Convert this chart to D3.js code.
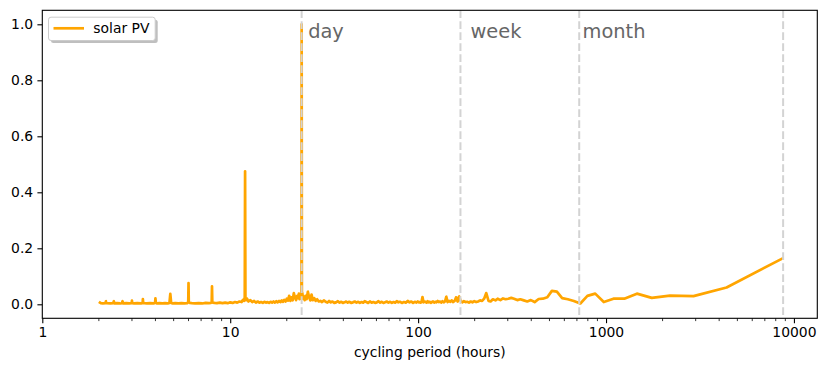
<!DOCTYPE html>
<html>
<head>
<meta charset="utf-8">
<script src="https://cdn.jsdelivr.net/npm/d3@7/dist/d3.min.js"></script>
<style>
  html, body { margin: 0; padding: 0; background: #fff; }
  svg { display: block; font-family: "DejaVu Sans", sans-serif; }
</style>
</head>
<body>
<svg id="chart" width="826" height="371"></svg>
<script>
// ---------- data ----------
const seriesName = "solar PV";
// [cycling period (hours), normalised power]
const solarPV = [
  [8760,0.165],[4380,0.060],[2920,0.029],[2190,0.031],[1752,0.023],[1460,0.038],[1251,0.020],[1095,0.020],
  [973,0.008],[876,0.038],[796,0.030],[730,0.003],[674,0.012],[626,0.018],[584,0.022],[547.5,0.045],
  [515,0.048],[487,0.025],[461,0.020],[438,0.019],[417,0.008],[398,0.015],[381,0.010],[365,0.014],
  [350,0.018],[337,0.015],[324,0.020],[313,0.023],[302,0.020],[292,0.018],[283,0.021],[274,0.015],
  [265,0.020],[258,0.014],[250,0.018],[243,0.010],[237,0.012],[230.5,0.040],[224.6,0.020],[219,0.012],
  [213.7,0.014],[208.6,0.010],[203.7,0.008],[199,0.011],[194.7,0.007],[190.4,0.010],[186.4,0.006],
  [182.5,0.009],[178.8,0.008],[175.2,0.011],[171.8,0.007],[168.5,0.012],[165.3,0.028],[162.2,0.010],
  [159.3,0.025],[156.4,0.012],[153.7,0.008],[151,0.014],[148.5,0.009],[146,0.012],[143.6,0.008],
  [141.3,0.027],[139,0.010],[136.9,0.007],[134.8,0.011],[132.7,0.006],[130.7,0.010],[128.8,0.008],
  [127,0.012],[125.1,0.007],[123.4,0.009],[121.7,0.006],[120,0.010],[118.4,0.008],[116.8,0.005],
  [115.3,0.009],[113.8,0.007],[112.3,0.011],[110.9,0.006],[109.5,0.008],[108.1,0.010],[106.8,0.007],
  [105.5,0.026],[104.3,0.009],[103.1,0.006],[101.9,0.008],[100.7,0.007],[99.5,0.010],
  [98,0.006],[96,0.009],[94,0.005],[92,0.010],[90,0.007],[88,0.012],[86,0.006],[84,0.008],[82,0.005],
  [80,0.009],[78.5,0.007],[77,0.011],[75.5,0.006],[74,0.008],[72.5,0.005],[71,0.009],[69.5,0.006],
  [68,0.010],[66.7,0.007],[65.4,0.005],[64,0.009],[62.8,0.006],[61.5,0.011],[60.3,0.007],[59,0.005],
  [57.8,0.008],[56.6,0.006],[55.4,0.010],[54.2,0.005],[53,0.008],[52,0.011],[51,0.006],[50,0.008],
  [49,0.005],[48,0.009],[47,0.006],[46,0.010],[45,0.007],[44,0.005],[43,0.009],[42.2,0.006],
  [41.4,0.010],[40.6,0.007],[39.8,0.005],[39,0.009],[38.2,0.006],[37.4,0.011],[36.6,0.007],
  [35.8,0.005],[35,0.010],[34.3,0.007],[33.6,0.012],[32.9,0.006],[32.2,0.009],[31.5,0.014],
  [30.8,0.008],[30.2,0.012],
  [29.6,0.010],[29,0.018],[28.5,0.012],[28,0.022],[27.5,0.015],[27.1,0.035],[26.7,0.014],[26.3,0.025],
  [25.9,0.045],[25.5,0.018],[25.2,0.030],[24.9,0.015],[24.6,0.028],[24.4,0.020],[24.2,0.040],
  [24.07,0.030],[24.0,1.0],[23.93,0.030],[23.8,0.020],[23.6,0.035],[23.4,0.018],[23.2,0.038],
  [23,0.022],[22.7,0.030],[22.4,0.015],[22.1,0.025],[21.8,0.040],[21.5,0.014],[21.2,0.025],
  [20.9,0.012],[20.6,0.030],[20.3,0.013],[20,0.020],[19.7,0.010],[19.4,0.016],[19.1,0.009],
  [18.8,0.014],[18.5,0.008],[18.2,0.012],[17.9,0.007],[17.6,0.011],[17.3,0.006],[17,0.010],
  [16.7,0.006],[16.4,0.009],[16.1,0.005],[15.8,0.008],[15.5,0.006],[15.2,0.009],[14.9,0.005],
  [14.6,0.008],[14.3,0.006],[14,0.010],[13.7,0.006],[13.4,0.012],[13.1,0.008],[12.8,0.015],
  [12.5,0.010],[12.3,0.020],[12.15,0.015],[12.05,0.025],[12.0,0.475],[11.95,0.025],[11.85,0.012],
  [11.7,0.016],[11.5,0.008],[11.2,0.010],[10.9,0.006],[10.6,0.008],[10.3,0.005],[10,0.007],
  [9.7,0.004],[9.4,0.006],[9.1,0.004],[8.8,0.006],[8.5,0.004],[8.25,0.005],[8.1,0.006],[8.03,0.008],
  [8.0,0.064],[7.97,0.008],[7.9,0.005],[7.7,0.004],[7.4,0.005],[7.1,0.003],[6.8,0.004],[6.5,0.003],
  [6.25,0.004],[6.1,0.005],[6.02,0.008],[6.0,0.076],[5.98,0.008],[5.9,0.004],[5.7,0.003],[5.5,0.004],
  [5.3,0.003],[5.1,0.004],[4.95,0.003],[4.85,0.005],[4.8,0.037],[4.75,0.005],[4.65,0.003],[4.5,0.004],
  [4.35,0.003],[4.2,0.004],[4.08,0.003],[4.02,0.005],[4.0,0.021],[3.98,0.005],[3.9,0.003],[3.75,0.004],
  [3.6,0.003],[3.5,0.004],[3.44,0.005],[3.43,0.019],[3.42,0.005],[3.35,0.003],[3.2,0.004],[3.08,0.003],
  [3.01,0.004],[3.0,0.013],[2.99,0.004],[2.9,0.003],[2.8,0.004],[2.7,0.003],[2.67,0.011],[2.66,0.004],
  [2.6,0.003],[2.5,0.004],[2.42,0.003],[2.4,0.011],[2.39,0.004],[2.3,0.003],[2.2,0.004],[2.185,0.004],
  [2.18,0.011],[2.17,0.004],[2.1,0.003],[2.05,0.004],[2.0,0.009]
];
const markerPeriods = [24, 168, 720, 8760];
const markerLabels = ["day", "week", "month"];
const markerLabelPeriods = [26, 190, 750];
const markerLabelValue = 0.95;
const xTickValues = [1, 10, 100, 1000, 10000];
const yTickValues = [0.0, 0.2, 0.4, 0.6, 0.8, 1.0];
const xDomain = [1, 13315];
const yDomain = [-0.05, 1.05];
const xLabel = "cycling period (hours)";

// ---------- layout ----------
const svg = d3.select("#chart");
const L = 42.3, R = 817.3, T = 10.3, B = 318.3;

const x = d3.scaleLog().domain(xDomain).range([L, R]);
const y = d3.scaleLinear().domain(yDomain).range([B, T]);

svg.append("defs").append("clipPath").attr("id", "plotclip")
  .append("rect").attr("x", L).attr("y", T).attr("width", R - L).attr("height", B - T);

// data line
const line = d3.line().x(d => x(d[0])).y(d => y(d[1]));
svg.append("g").attr("clip-path", "url(#plotclip)")
  .append("path")
  .datum(solarPV)
  .attr("d", line)
  .attr("fill", "none")
  .attr("stroke", "#FFA500")
  .attr("stroke-width", 2.7)
  .attr("stroke-linejoin", "round");

// vertical marker lines
svg.append("g").selectAll("line").data(markerPeriods).join("line")
  .attr("x1", d => x(d)).attr("x2", d => x(d))
  .attr("y1", T).attr("y2", B)
  .attr("stroke", "#d3d3d3")
  .attr("stroke-width", 2)
  .attr("stroke-dasharray", "7.7,3.3");

// marker labels
svg.append("g").selectAll("text").data(markerLabels).join("text")
  .attr("x", (d, i) => x(markerLabelPeriods[i]))
  .attr("y", y(markerLabelValue))
  .attr("font-size", 19.4)
  .attr("fill", "#666666")
  .text(d => d);

// axes
const xAxis = d3.axisBottom(x).tickValues(xTickValues).tickFormat(d3.format("d"))
  .tickSize(4.9).tickPadding(4.2);
const gx = svg.append("g").attr("transform", `translate(0,${B})`).call(xAxis);
// minor ticks
const minor = [];
for (let e = 0; e <= 4; e++) for (let m = 2; m <= 9; m++) {
  const v = m * Math.pow(10, e);
  if (v <= xDomain[1]) minor.push(v);
}
gx.selectAll(".minor").data(minor).join("line").attr("class", "minor")
  .attr("x1", d => x(d)).attr("x2", d => x(d)).attr("y1", 0).attr("y2", 2.8)
  .attr("stroke", "#000").attr("stroke-width", 0.8);

const yAxis = d3.axisLeft(y).tickValues(yTickValues).tickFormat(d3.format(".1f"))
  .tickSize(4.9).tickPadding(4.2);
const gy = svg.append("g").attr("transform", `translate(${L},0)`).call(yAxis);

[gx, gy].forEach(g => {
  g.select(".domain").remove();
  g.selectAll(".tick line").attr("stroke", "#000").attr("stroke-width", 1.1);
  g.selectAll(".tick text").attr("font-size", 13.9).attr("fill", "#000")
    .attr("font-family", "DejaVu Sans, sans-serif");
});

// frame
svg.append("rect").attr("x", L).attr("y", T).attr("width", R - L).attr("height", B - T)
  .attr("fill", "none").attr("stroke", "#000").attr("stroke-width", 1.1);

// x label
svg.append("text").attr("x", (L + R) / 2).attr("y", 357)
  .attr("text-anchor", "middle").attr("font-size", 13.9).attr("fill", "#000")
  .text(xLabel);

// legend
const lg = svg.append("g");
lg.append("rect").attr("x", 51).attr("y", 19.8).attr("width", 106.7).attr("height", 23.3)
  .attr("rx", 2.5).attr("fill", "#808080").attr("opacity", 0.5);
lg.append("rect").attr("x", 48.5).attr("y", 17.2).attr("width", 106.7).attr("height", 23.3)
  .attr("rx", 2.5).attr("fill", "#fff").attr("stroke", "#cccccc").attr("stroke-width", 1);
lg.append("line").attr("x1", 53.5).attr("x2", 84).attr("y1", 28.3).attr("y2", 28.3)
  .attr("stroke", "#FFA500").attr("stroke-width", 2.7);
lg.append("text").attr("x", 93.3).attr("y", 33.2).attr("font-size", 13.9).attr("fill", "#000")
  .text(seriesName);
</script>
</body>
</html>
